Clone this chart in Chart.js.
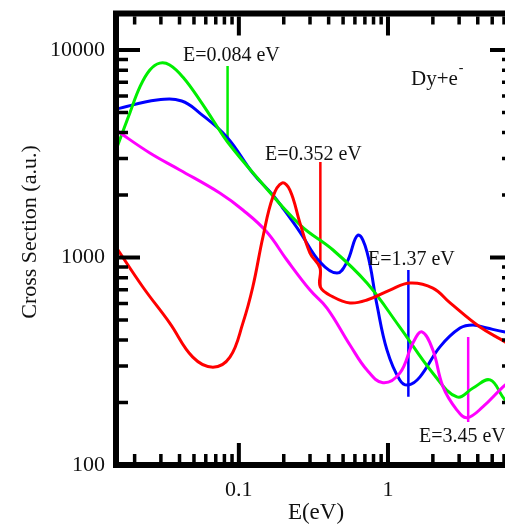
<!DOCTYPE html>
<html>
<head>
<meta charset="utf-8">
<script src="https://cdn.jsdelivr.net/npm/chart.js@4.4.1/dist/chart.umd.min.js"></script>
<style>
html,body{margin:0;padding:0;background:#fff;overflow:hidden;width:505px;height:525px;}
canvas{display:block;}
</style>
</head>
<body>
<canvas id="c" width="530" height="525" style="width:530px;height:525px"></canvas>
<script>
// ---- data (E in eV, cross section in a.u.) ----
const blueE   = [0.015,0.0282,0.0414,0.0547,0.083,0.124,0.169,0.197,0.257,0.350,0.455,0.531,0.629,0.723,0.844,0.985,1.20,1.37,1.64,2.23,3.04,3.72,4.61,6.1,7.0];
const blueCS  = [5196,5741,5680,4968,3812,2553,2000,1732,1327,951,841,951,1282,1064,590,358,257,243,266,371,457,473,457,438,433];

const redE    = [0.015,0.0227,0.0344,0.0491,0.067,0.0871,0.1064,0.124,0.145,0.169,0.1944,0.220,0.257,0.300,0.350,0.3515,0.428,0.556,0.723,1.03,1.41,2.0,2.61,4.14,6.1,7.0];
const redCS   = [1124,721,483,331,296,331,483,721,1256,1959,2286,2115,1465,1051,889,721,646,604,624,697,753,712,604,462,392,366];

const greenE  = [0.015,0.01855,0.0217,0.0253,0.0295,0.0344,0.0421,0.0547,0.067,0.084,0.128,0.257,0.428,0.723,1.20,2.0,2.9,3.72,4.84,6.1,7.0];
const greenCS = [3300,4965,6640,8010,8650,8470,7410,5740,4600,3605,2500,1436,1087,753,462,277,213,235,257,206,194];

const magE    = [0.015,0.0253,0.0402,0.0745,0.1064,0.154,0.210,0.300,0.39,0.556,0.723,0.926,1.20,1.47,1.69,2.0,2.34,2.9,3.39,4.34,5.91,7.0];
const magCS   = [4113,3190,2643,2046,1694,1327,973,697,571,379,287,249,277,387,438,358,238,184,169,191,238,263];

// resonance spikes
const spikeE      = [0.084, 0.352, 1.37, 3.45];
const spikeTop    = [8370, 2884, 871, 414];
const spikeBottom = [3605, 721, 213, 161];
const spikeLabels = ['E=0.084 eV','E=0.352 eV','E=1.37 eV','E=3.45 eV'];

// axes
const xMin = 0.015, xMax = 7, yMin = 100, yMax = 15000;
const xDecades = [0.01, 0.1, 1];
const yDecades = [100, 1000, 10000];
const mults = [1,2,3,4,5,6,7,8,9];
const xTickLabels = ['0.1','1'];
const yTickLabels = ['100','1000','10000'];
const xTitle = 'E(eV)';
const yTitle = 'Cross Section (a.u.)';

const COL = {blue:'#0000ff', red:'#ff0000', green:'#00ee00', mag:'#ff00ff'};
const spikeColors = [COL.green, COL.red, COL.blue, COL.mag];

function pts(xs, ys){ return xs.map((x,i)=>({x:x, y:ys[i]})); }
function tickList(decs, lo, hi){
  const out=[];
  decs.forEach(d=>mults.forEach(m=>{const v=+(d*m).toPrecision(6); if(v>=lo*0.9999 && v<=hi*1.0001) out.push(v);}));
  return out;
}
const xTicks = tickList(xDecades, xMin, xMax);
const yTicks = tickList(yDecades, yMin, yMax);

function curve(data, color){
  return {data:data, borderColor:color, borderWidth:3, pointRadius:0, fill:false, tension:0.4};
}
const datasets = [
  curve(pts(redE, redCS), COL.red),
  curve(pts(magE, magCS), COL.mag),
  curve(pts(greenE, greenCS), COL.green),
  curve(pts(blueE, blueCS), COL.blue)
];
spikeE.forEach((e,i)=>{
  datasets.push({data:[{x:e,y:spikeTop[i]},{x:e,y:spikeBottom[i]}], borderColor:spikeColors[i], borderWidth:2.5, pointRadius:0, fill:false, tension:0});
});

const SERIF = '"Liberation Serif","DejaVu Serif",serif';
function isMajor(v){ const m = v/Math.pow(10, Math.floor(Math.log10(v)+1e-9)); return Math.abs(m-1)<1e-6; }

const framePlugin = {
  id:'frame',
  afterDatasetsDraw(chart){
    const {ctx, chartArea:a, scales} = chart;
    ctx.save();
    ctx.strokeStyle = '#000';
    ctx.lineCap = 'butt';
    const xs = scales.x, ys = scales.y;
    xs.ticks.forEach(t=>{
      const v=t.value; if(v<=xMin*1.0001||v>=xMax*0.9999) return;
      const px = xs.getPixelForValue(v);
      const L = isMajor(v)?19:8;
      ctx.lineWidth = isMajor(v)?4:3.5;
      ctx.beginPath();
      ctx.moveTo(px, a.bottom-3); ctx.lineTo(px, a.bottom-3-L);
      ctx.moveTo(px, a.top+3); ctx.lineTo(px, a.top+3+L);
      ctx.stroke();
    });
    ys.ticks.forEach(t=>{
      const v=t.value; if(v<=yMin*1.0001||v>=yMax*0.9999) return;
      const py = ys.getPixelForValue(v);
      const L = isMajor(v)?21:9;
      ctx.lineWidth = isMajor(v)?4:3.5;
      ctx.beginPath();
      ctx.moveTo(a.left+3, py); ctx.lineTo(a.left+3+L, py);
      ctx.moveTo(a.right-3, py); ctx.lineTo(a.right-3-L, py);
      ctx.stroke();
    });
    ctx.lineWidth = 6;
    ctx.strokeRect(a.left, a.top, a.right-a.left, a.bottom-a.top);
    ctx.restore();
  },
  afterDraw(chart){
    const {ctx} = chart;
    ctx.save();
    ctx.fillStyle = '#111';
    ctx.textBaseline = 'alphabetic';
    ctx.font = '23px '+SERIF;
    ctx.textAlign = 'center';
    ctx.fillText(xTitle, 316, 519);
    ctx.save();
    ctx.translate(36, 232);
    ctx.rotate(-Math.PI/2);
    ctx.font = '22px '+SERIF;
    ctx.fillText(yTitle, 0, 0);
    ctx.restore();
    ctx.textAlign = 'left';
    ctx.font = '20px '+SERIF;
    const pos = [[183,61],[265,160],[368,265],[419,442]];
    spikeLabels.forEach((s,i)=>ctx.fillText(s, pos[i][0], pos[i][1]));
    ctx.font = '21px '+SERIF;
    ctx.fillText('Dy+e', 411, 85);
    const w = ctx.measureText('Dy+e').width;
    ctx.font = '14px '+SERIF;
    ctx.fillText('-', 411+w+1, 72);
    ctx.restore();
  }
};

function labelFor(list){
  return function(v){
    for(const s of list){ if(Math.abs(parseFloat(s)-v) < 1e-6*Math.max(1,v)) return s; }
    return '';
  };
}

new Chart(document.getElementById('c').getContext('2d'), {
  type:'line',
  data:{datasets:datasets},
  options:{
    responsive:false, animation:false, devicePixelRatio:1,
    layout:{padding:{top:13.5, right:16, left:0, bottom:0}},
    plugins:{legend:{display:false}, tooltip:{enabled:false}},
    scales:{
      x:{type:'logarithmic', min:xMin, max:xMax, position:'bottom',
         grid:{display:false, drawTicks:false}, border:{display:false},
         ticks:{autoSkip:false, maxRotation:0, minRotation:0, padding:12, color:'#111', font:{family:SERIF, size:22}, callback:labelFor(xTickLabels)},
         afterBuildTicks(s){ s.ticks = xTicks.map(v=>({value:v})); },
         afterFit(s){ s.height = 60; s.paddingLeft = 0; s.paddingRight = 0; }},
      y:{type:'logarithmic', min:yMin, max:yMax, position:'left',
         grid:{display:false, drawTicks:false}, border:{display:false},
         ticks:{autoSkip:false, padding:11, color:'#111', font:{family:SERIF, size:22}, callback:labelFor(yTickLabels)},
         afterBuildTicks(s){ s.ticks = yTicks.map(v=>({value:v})); },
         afterFit(s){ s.width = 116; s.paddingTop = 0; s.paddingBottom = 0; }}
    }
  },
  plugins:[framePlugin]
});
</script>
</body>
</html>
